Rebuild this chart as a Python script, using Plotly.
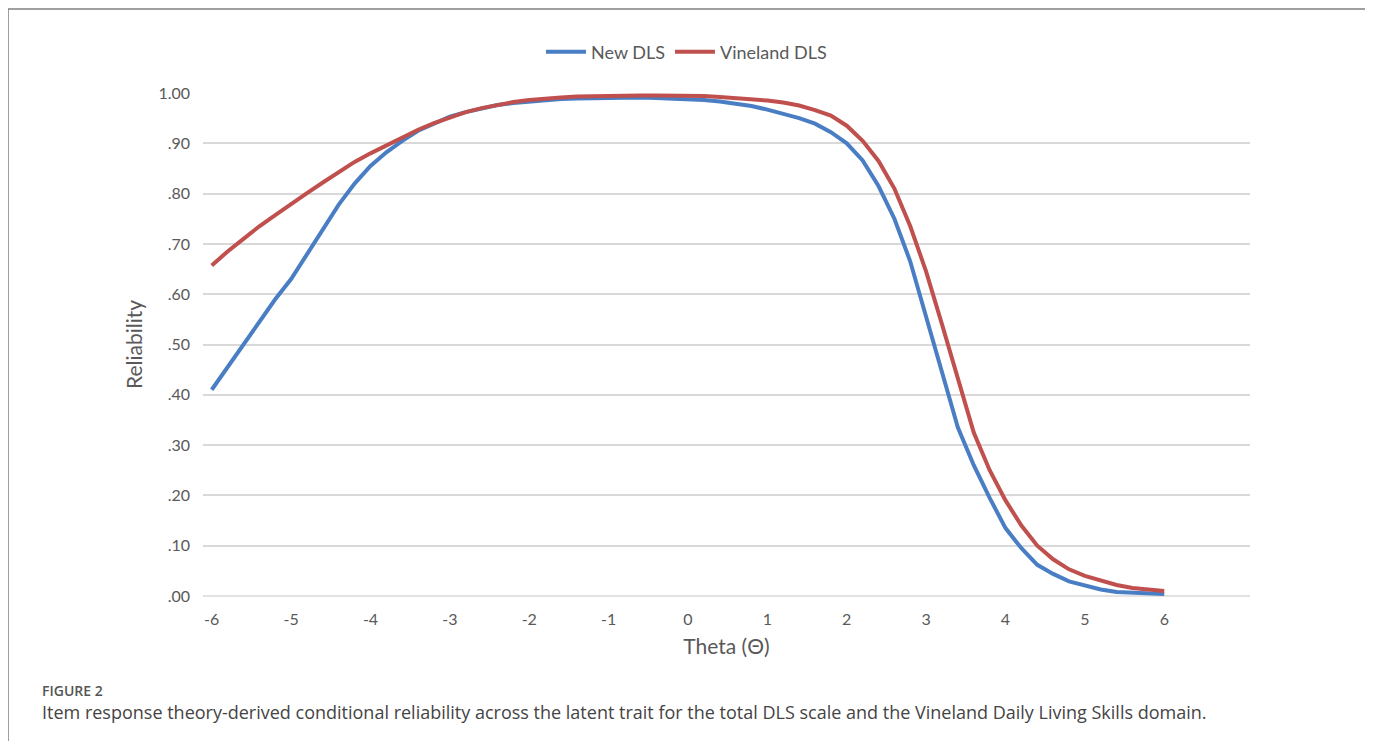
import plotly.graph_objects as go

theta = [round(-6 + 0.2 * i, 1) for i in range(61)]

new_dls = [
    0.410, 0.455, 0.500, 0.545, 0.590, 0.630, 0.680, 0.730, 0.778, 0.820,
    0.855, 0.882, 0.905, 0.925, 0.940, 0.953, 0.962, 0.970, 0.976, 0.980,
    0.983, 0.986, 0.988, 0.989, 0.990, 0.991, 0.991, 0.991, 0.990, 0.989,
    0.988, 0.986, 0.983, 0.979, 0.974, 0.967, 0.959, 0.950, 0.939, 0.922,
    0.900, 0.866, 0.815, 0.750, 0.665, 0.555, 0.440, 0.335, 0.260, 0.195,
    0.135, 0.095, 0.062, 0.044, 0.029, 0.020, 0.013, 0.008, 0.006, 0.005,
    0.004,
]

vineland_dls = [
    0.657, 0.685, 0.710, 0.735, 0.757, 0.780, 0.801, 0.822, 0.843, 0.863,
    0.880, 0.896, 0.912, 0.927, 0.940, 0.952, 0.962, 0.970, 0.977, 0.982,
    0.986, 0.989, 0.991, 0.993, 0.994, 0.995, 0.995, 0.995, 0.995, 0.995,
    0.995, 0.994, 0.992, 0.990, 0.988, 0.985, 0.981, 0.975, 0.966, 0.955,
    0.935, 0.905, 0.865, 0.810, 0.735, 0.645, 0.540, 0.435, 0.325, 0.250,
    0.190, 0.140, 0.100, 0.073, 0.053, 0.040, 0.030, 0.022, 0.016, 0.013,
    0.010,
]

x_ticks = list(range(-6, 7))
x_tick_labels = [str(v) for v in x_ticks]
y_ticks = [0, 0.1, 0.2, 0.3, 0.4, 0.5, 0.6, 0.7, 0.8, 0.9, 1.0]
y_tick_labels = [".00", ".10", ".20", ".30", ".40", ".50", ".60", ".70", ".80", ".90", "1.00"]

series_names = ["New DLS", "Vineland DLS"]
caption_label = "FIGURE 2"
caption_text = ("Item response theory-derived conditional reliability across the latent trait "
                "for the total DLS scale and the Vineland Daily Living Skills domain.")

OFF = 8  # page body margin
W, H = 1373 - 2 * OFF, 749 - 2 * OFF
L, R, T, B = 203 - OFF, 1250 - OFF, 93 - OFF, 596 - OFF
pw, ph = R - L, B - T


def px_x(x):
    return (x - OFF - L) / pw


def px_y(y):
    return (B - (y - OFF)) / ph


fig = go.Figure()
fig.add_trace(go.Scatter(x=theta, y=new_dls, mode="lines", name=series_names[0],
                         line=dict(color="#4a7ec4", width=4)))
fig.add_trace(go.Scatter(x=theta, y=vineland_dls, mode="lines", name=series_names[1],
                         line=dict(color="#c0504d", width=4)))

FONT = "Lato, Open Sans, sans-serif"
tick_font = dict(family=FONT, size=16, color="#595959")

fig.update_layout(
    width=W, height=H,
    margin=dict(l=L, r=W - R, t=T, b=H - B, autoexpand=False),
    paper_bgcolor="white", plot_bgcolor="white",
    showlegend=True,
    legend=dict(orientation="h", xref="container", x=0.5, xanchor="center",
                yref="container", y=1 - (52 - OFF) / H, yanchor="middle",
                font=dict(family=FONT, size=18, color="#595959"),
                itemwidth=40, tracegroupgap=0),
    xaxis=dict(range=[-6.11, 7.08], tickmode="array", tickvals=x_ticks, ticktext=x_tick_labels,
               showgrid=False, zeroline=False, showline=False, ticks="",
               tickfont=tick_font, ticklabelstandoff=12,
               title=dict(text="Theta (Θ)", font=dict(family=FONT, size=21, color="#595959"),
                          standoff=12)),
    yaxis=dict(range=[0, 1.0], tickmode="array", tickvals=y_ticks, ticktext=y_tick_labels,
               showgrid=True, gridcolor="#d9d9d9", gridwidth=1.7, zeroline=False,
               showline=False, ticks="", tickfont=tick_font, ticklabelstandoff=12,
               title=dict(text="Reliability", font=dict(family=FONT, size=21, color="#595959"),
                          standoff=10)),
)

# x axis baseline (gridline style)
fig.add_shape(type="line", xref="paper", yref="paper", x0=0, x1=1, y0=0, y1=0,
              line=dict(color="#d9d9d9", width=1.7), layer="below")

# outer frame of the figure panel
frame = dict(color="#7f7f7f", width=1.5)
fx0, fx1 = px_x(8), px_x(1366)
fy0, fy1 = px_y(9), px_y(770)
fig.add_shape(type="line", xref="paper", yref="paper", x0=fx0, x1=fx1, y0=fy0, y1=fy0, line=frame)
fig.add_shape(type="line", xref="paper", yref="paper", x0=fx0, x1=fx0, y0=fy0, y1=fy1, line=frame)
fig.add_shape(type="line", xref="paper", yref="paper", x0=fx1, x1=fx1, y0=fy0, y1=fy1, line=frame)

fig.add_annotation(text=caption_label, xref="paper", yref="paper", x=px_x(40), y=px_y(690),
                   xanchor="left", yanchor="middle", showarrow=False,
                   font=dict(family="Open Sans, Noto Sans, sans-serif", size=14, color="#555555", weight=600))
fig.add_annotation(text=caption_text, xref="paper", yref="paper", x=px_x(40), y=px_y(712),
                   xanchor="left", yanchor="middle", showarrow=False,
                   font=dict(family="Open Sans, Noto Sans, sans-serif", size=18, color="#444444"))

fig.write_html("out.html")
